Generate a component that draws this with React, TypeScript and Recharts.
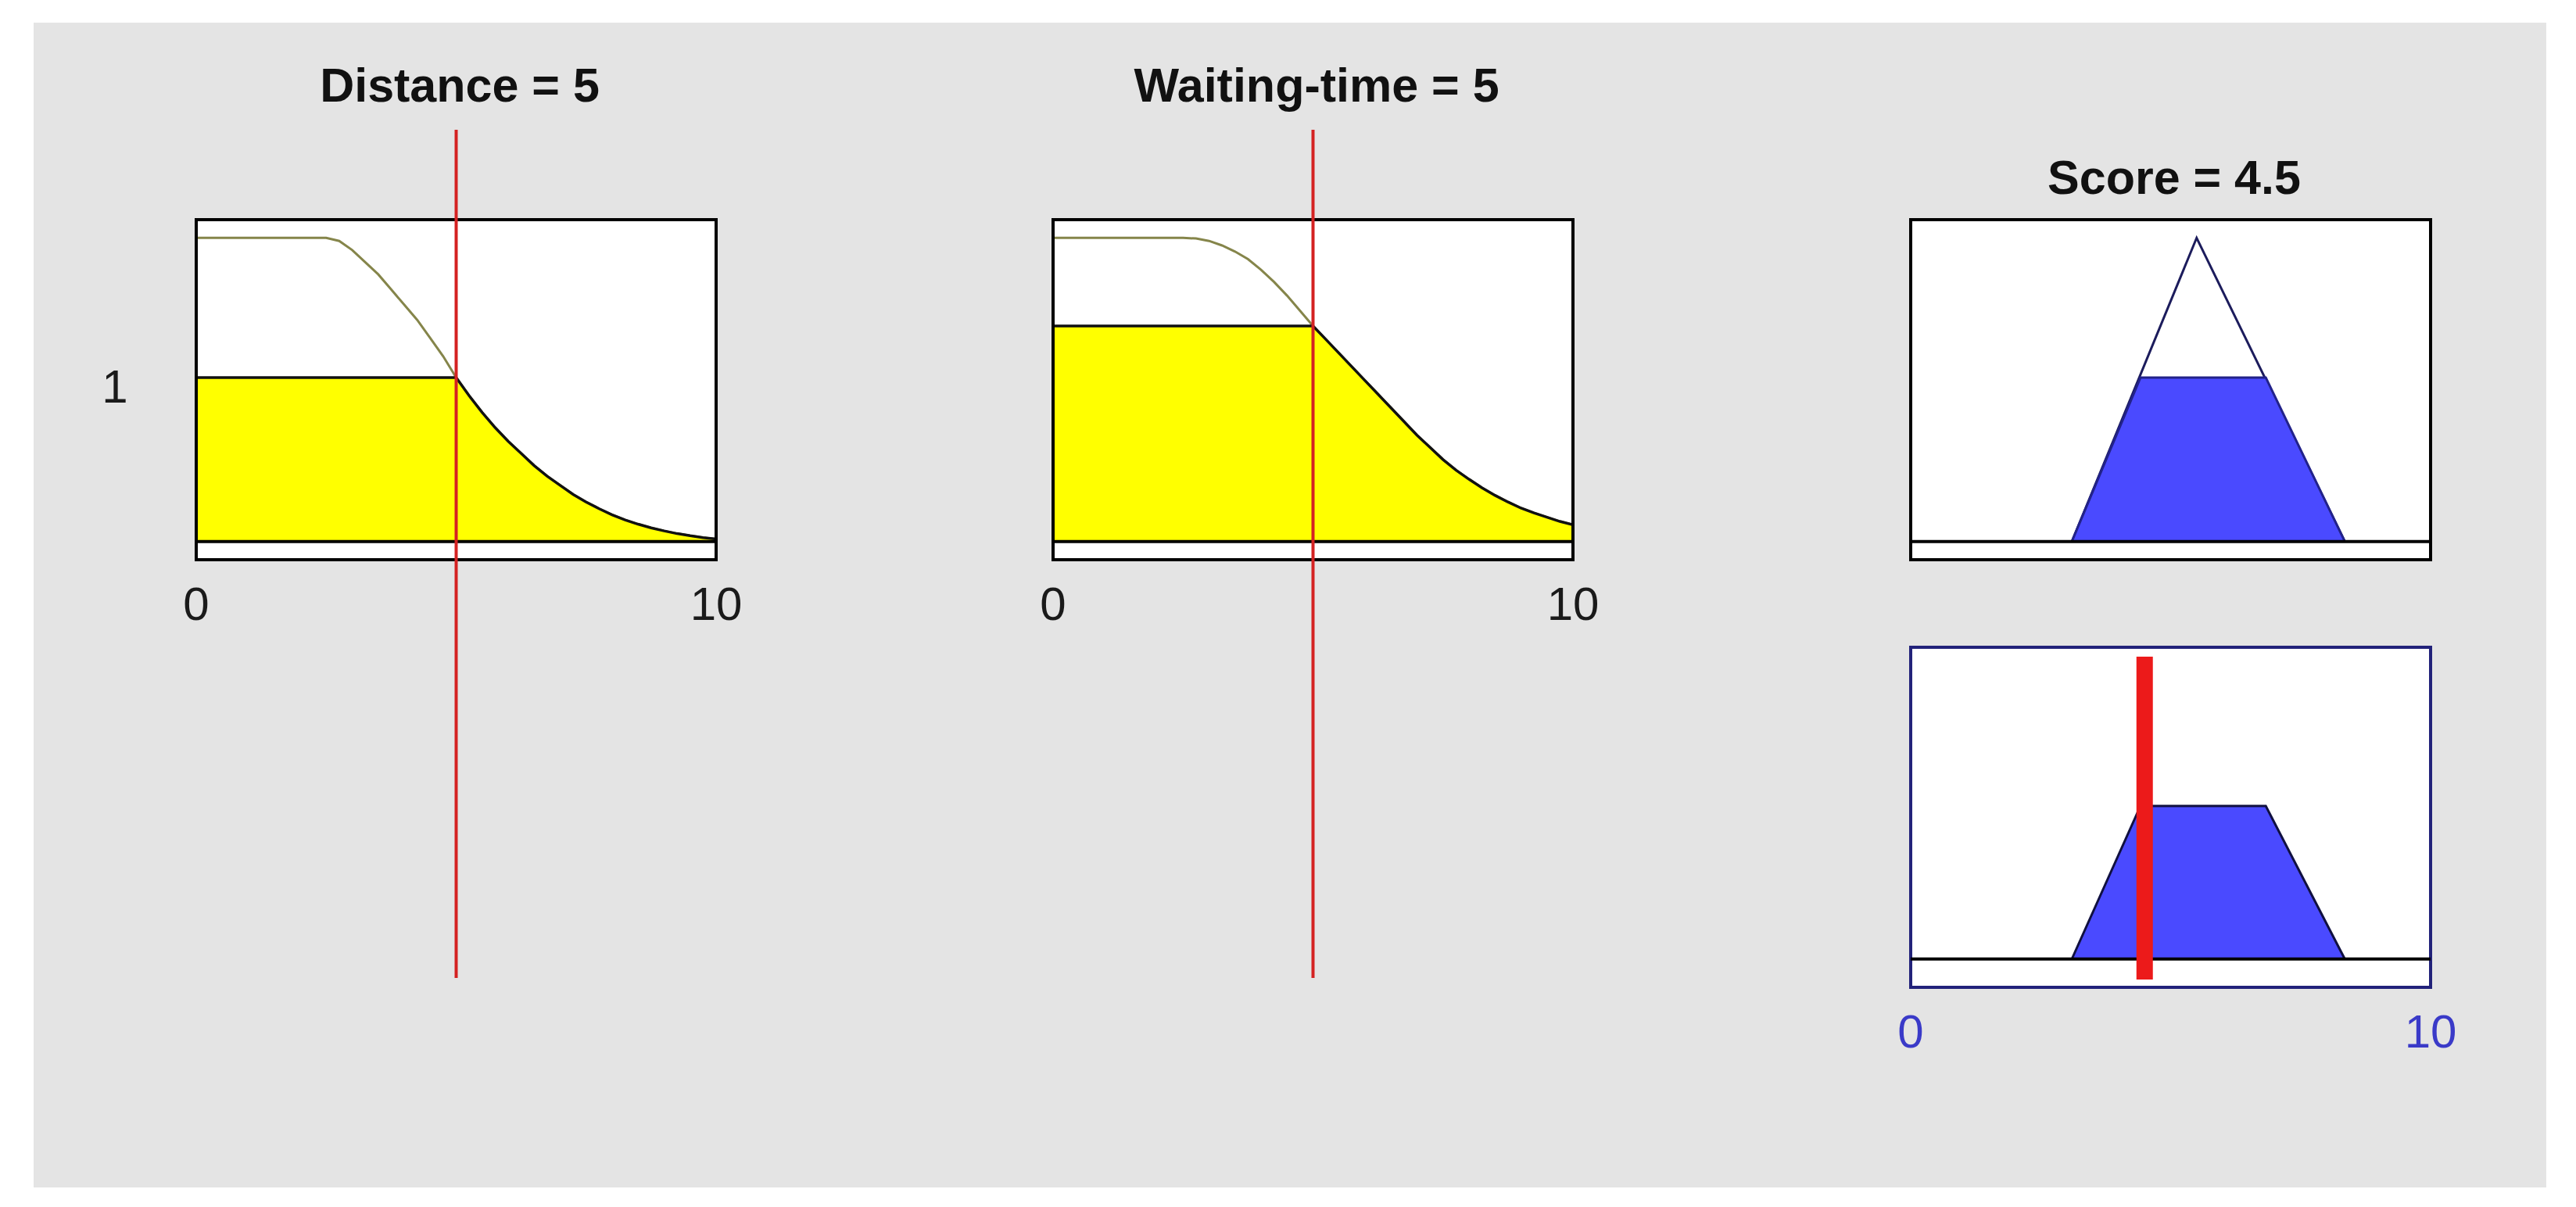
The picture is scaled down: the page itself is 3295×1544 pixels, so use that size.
import { ComposedChart, Area, Line, XAxis, YAxis, ReferenceArea, ReferenceLine, CartesianGrid, Label } from "recharts"

const FONT = '"Liberation Sans", Arial, Helvetica, sans-serif'

// input membership functions (step 0.25)
const X_SAMPLES = [
  0, 0.25, 0.5, 0.75, 1, 1.25, 1.5, 1.75, 2, 2.25, 2.5, 2.75, 3, 3.25, 3.5, 3.75, 4, 4.25, 4.5, 4.75, 5,
  5.25, 5.5, 5.75, 6, 6.25, 6.5, 6.75, 7, 7.25, 7.5, 7.75, 8, 8.25, 8.5, 8.75, 9, 9.25, 9.5, 9.75, 10,
]
const DISTANCE_MF = [
  1, 1, 1, 1, 1, 1, 1, 1, 1, 1, 1, 0.99, 0.96, 0.92, 0.88, 0.83, 0.78, 0.73, 0.67, 0.61, 0.54,
  0.48, 0.425, 0.375, 0.33, 0.29, 0.25, 0.215, 0.185, 0.155, 0.13, 0.108, 0.088, 0.071, 0.057, 0.045, 0.035, 0.026, 0.019, 0.013, 0.008,
]
const DISTANCE_CUT = [
  0.54, 0.54, 0.54, 0.54, 0.54, 0.54, 0.54, 0.54, 0.54, 0.54, 0.54, 0.54, 0.54, 0.54, 0.54, 0.54, 0.54, 0.54, 0.54, 0.54, 0.54,
  0.48, 0.425, 0.375, 0.33, 0.29, 0.25, 0.215, 0.185, 0.155, 0.13, 0.108, 0.088, 0.071, 0.057, 0.045, 0.035, 0.026, 0.019, 0.013, 0.008,
]
const WAITING_MF = [
  1, 1, 1, 1, 1, 1, 1, 1, 1, 1, 1, 0.998, 0.99, 0.975, 0.955, 0.93, 0.895, 0.855, 0.81, 0.76, 0.71,
  0.665, 0.62, 0.575, 0.53, 0.485, 0.44, 0.395, 0.35, 0.31, 0.27, 0.235, 0.205, 0.177, 0.152, 0.13, 0.11, 0.094, 0.08, 0.066, 0.055,
]
const WAITING_CUT = [
  0.71, 0.71, 0.71, 0.71, 0.71, 0.71, 0.71, 0.71, 0.71, 0.71, 0.71, 0.71, 0.71, 0.71, 0.71, 0.71, 0.71, 0.71, 0.71, 0.71, 0.71,
  0.665, 0.62, 0.575, 0.53, 0.485, 0.44, 0.395, 0.35, 0.31, 0.27, 0.235, 0.205, 0.177, 0.152, 0.13, 0.11, 0.094, 0.08, 0.066, 0.055,
]

// output membership function and its cut
const SCORE_X = [3.1, 4.42, 5.5, 6.83, 8.35]
const SCORE_MF = [0, null, 1, null, 0]
const SCORE_CUT = [0, 0.54, null, 0.54, 0]

// aggregated output
const AGG_X = [3.1, 4.42, 6.83, 8.35]
const AGG_Y = [0, 0.54, 0.54, 0]

const DISTANCE_INPUT = 5
const WAITING_INPUT = 5
const SCORE_OUTPUT = 4.5
const X_TICKS = [0, 10]
const RULE_LABEL = "1"

const distanceData = X_SAMPLES.map((x, i) => ({ x, mf: DISTANCE_MF[i], cut: DISTANCE_CUT[i] }))
const waitingData = X_SAMPLES.map((x, i) => ({ x, mf: WAITING_MF[i], cut: WAITING_CUT[i] }))
const scoreData = SCORE_X.map((x, i) => ({ x, mf: SCORE_MF[i], cut: SCORE_CUT[i] }))
const aggData = AGG_X.map((x, i) => ({ x, y: AGG_Y[i] }))

const BOX_W = 665
const BOX_H = 435
const TOP_ROW = 281
const RULE_X = 147

function Frame({ left, top, yDomain, data, tickColor, frameColor, ruleLabel, children }: any) {
  const padL = 220, padR = 100, padT = 20, padB = 110
  const axisW = ruleLabel ? 2 * (left - RULE_X) : 0
  return (
    <div style={{ position: "absolute", left: left - padL, top: top - padT }}>
      <ComposedChart
        width={BOX_W + padL + padR}
        height={BOX_H + padT + padB}
        data={data}
        margin={{ top: padT, right: padR, bottom: 0, left: padL - axisW }}
      >
        <CartesianGrid horizontal={false} vertical={false} fill="#ffffff" fillOpacity={1} />
        <XAxis
          dataKey="x" type="number" domain={[0, 10]} ticks={X_TICKS} interval={0}
          allowDataOverflow height={padB} tickLine={false} axisLine={false}
          tickSize={0} tickMargin={34} tick={{ fontSize: 60, fill: tickColor, fontFamily: FONT }}
        />
        <YAxis
          type="number" domain={yDomain} allowDataOverflow hide={!ruleLabel} width={axisW}
          tick={false} axisLine={false} tickLine={false}
        >
          {ruleLabel && <Label value={ruleLabel} position="center" fontSize={60} fill="#1a1a1a" dy={-5} style={{ fontFamily: FONT }} />}
        </YAxis>
        {children}
        <ReferenceLine y={0} stroke="#000" strokeWidth={4} />
        <ReferenceArea x1={0} x2={10} y1={yDomain[0]} y2={yDomain[1]} fill="none" stroke={frameColor} strokeWidth={4} />
      </ComposedChart>
    </div>
  )
}

// vertical input / output marker, drawn in its own layer over the frames
function Marker({ left, top, bottom, value, color, width }: any) {
  return (
    <div style={{ position: "absolute", left, top }}>
      <ComposedChart
        width={BOX_W}
        height={bottom - top}
        data={[{ x: 0, y: 0 }, { x: 10, y: 1 }]}
        margin={{ top: 0, right: 0, bottom: 0, left: 0 }}
      >
        <XAxis dataKey="x" type="number" domain={[0, 10]} hide />
        <YAxis type="number" domain={[0, 1]} hide />
        <Line dataKey="y" stroke="none" dot={false} activeDot={false} isAnimationActive={false} />
        <ReferenceLine x={value} stroke={color} strokeWidth={width} />
      </ComposedChart>
    </div>
  )
}

function Title({ center, baseline, text }: any) {
  return (
    <div style={{
      position: "absolute", left: center - 500, width: 1000, top: baseline - 52,
      textAlign: "center", fontSize: 61, lineHeight: "61px", fontWeight: "bold", color: "#111",
    }}>
      {text}
    </div>
  )
}

export default function App() {
  return (
    <div style={{ position: "absolute", left: 0, top: 0, width: 3295, height: 1544, background: "#fff", fontFamily: FONT, overflow: "hidden" }}>
      <div style={{ position: "absolute", left: 43, top: 29, width: 3214, height: 1490, background: "#e4e4e4" }} />

      <Title center={588} baseline={131} text={`Distance = ${DISTANCE_INPUT}`} />
      <Title center={1684} baseline={131} text={`Waiting-time = ${WAITING_INPUT}`} />
      <Title center={2781} baseline={249} text={`Score = ${SCORE_OUTPUT}`} />

      {/* Distance */}
      <Frame left={251} top={TOP_ROW} yDomain={[-0.06, 1.06]} data={distanceData} tickColor="#1a1a1a" frameColor="#000" ruleLabel={RULE_LABEL}>
        <Area type="linear" dataKey="mf" stroke="#85854a" strokeWidth={3} fill="none" fillOpacity={0} dot={false} activeDot={false} isAnimationActive={false} />
        <Area type="linear" dataKey="cut" stroke="#111" strokeWidth={3.5} fill="#ffff00" fillOpacity={1} dot={false} activeDot={false} isAnimationActive={false} />
      </Frame>
      <Marker left={251} top={166} bottom={1251} value={DISTANCE_INPUT} color="#d42222" width={4} />

      {/* Waiting-time */}
      <Frame left={1347} top={TOP_ROW} yDomain={[-0.06, 1.06]} data={waitingData} tickColor="#1a1a1a" frameColor="#000">
        <Area type="linear" dataKey="mf" stroke="#85854a" strokeWidth={3} fill="none" fillOpacity={0} dot={false} activeDot={false} isAnimationActive={false} />
        <Area type="linear" dataKey="cut" stroke="#111" strokeWidth={3.5} fill="#ffff00" fillOpacity={1} dot={false} activeDot={false} isAnimationActive={false} />
      </Frame>
      <Marker left={1347} top={166} bottom={1251} value={WAITING_INPUT} color="#d42222" width={4} />

      {/* Score, rule 1 */}
      <Frame left={2444} top={TOP_ROW} yDomain={[-0.06, 1.06]} data={scoreData} tickColor="transparent" frameColor="#000">
        <Area type="linear" dataKey="mf" connectNulls stroke="#1c1c5c" strokeWidth={3} fill="none" fillOpacity={0} dot={false} activeDot={false} isAnimationActive={false} />
        <Area type="linear" dataKey="cut" connectNulls stroke="#22228a" strokeWidth={3} fill="#4a4aff" fillOpacity={1} dot={false} activeDot={false} isAnimationActive={false} />
      </Frame>

      {/* Aggregated score */}
      <Frame left={2444} top={828} yDomain={[-0.1, 1.1]} data={aggData} tickColor="#3a3ac8" frameColor="#22227a">
        <Area type="linear" dataKey="y" stroke="#101040" strokeWidth={3} fill="#4a4aff" fillOpacity={1} dot={false} activeDot={false} isAnimationActive={false} />
      </Frame>
      <Marker left={2444} top={840} bottom={1253} value={SCORE_OUTPUT} color="#ec1a1a" width={21} />
    </div>
  )
}
